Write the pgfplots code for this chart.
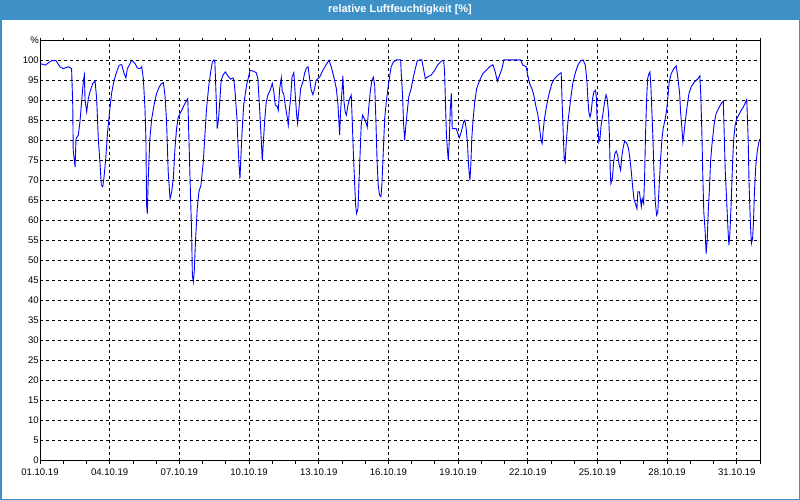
\documentclass[border=0pt]{standalone}
\usepackage{pgfplots}
\pgfplotsset{compat=1.18}
\usepackage{fontspec}
\setmainfont{Liberation Sans}
\definecolor{titleblue}{RGB}{61,145,199}
\begin{document}
\begin{tikzpicture}
\fill[white] (0,0) rectangle (800bp,500bp);
\fill[titleblue] (0,480bp) rectangle (800bp,500bp);
\node[text=white, font=\bfseries\fontsize{11}{12}\selectfont] at (400bp,490bp) {relative Luftfeuchtigkeit [\%]};
\begin{axis}[
  at={(40bp,39.3bp)}, anchor=south west,
  scale only axis, width=720bp, height=420bp,
  xmin=0, xmax=31, ymin=0, ymax=105,
  xtick={0,3,...,30},
  xticklabels={01.10.19,04.10.19,07.10.19,10.10.19,13.10.19,16.10.19,19.10.19,22.10.19,25.10.19,28.10.19,31.10.19},
  minor xtick={0,1,...,31},
  ytick={0,5,...,105},
  yticklabels={0,5,10,15,20,25,30,35,40,45,50,55,60,65,70,75,80,85,90,95,100,\%},
  xmajorgrids, ymajorgrids,
  major grid style={black, dash pattern=on 3bp off 3bp, line width=0.85bp},
  axis line style={black, line width=1bp},
  tick align=outside,
  major tick length=3bp, minor tick length=3bp,
  xtick style={black, line width=0.8bp},
  ytick style={draw=none},
  /pgf/number format/assume math mode=true,
  ticklabel style={font=\fontsize{9.6}{10}\selectfont, inner sep=0pt},
  yticklabel style={xshift=2bp},
  xticklabel style={yshift=-5.3bp},
]
\addplot[color={rgb,255:red,0;green,0;blue,255}, line width=0.9bp, mark=none] coordinates {
(0,99.3)(0.22,98.9)(0.5,100)(0.69,100)(0.86,98.5)(1.0,98.0)(1.22,98.5)(1.36,98.0)
(1.41,88.9)(1.43,77.6)(1.51,73.4)(1.55,80.5)(1.65,81.4)(1.72,84.7)(1.79,89.7)(1.87,95.1)
(1.91,96.4)(1.94,90.1)(2.01,87.2)(2.08,90.5)(2.15,92.2)(2.27,94.3)(2.37,94.9)(2.44,90.5)
(2.51,80.5)(2.58,74.7)(2.64,68.9)(2.70,68.5)(2.75,70.5)(2.83,75.5)(2.91,82.2)(3.01,88.0)
(3.08,91.8)(3.19,95.1)(3.30,97.2)(3.41,98.9)(3.52,99.0)(3.62,96.8)(3.70,95.7)(3.76,98.0)
(3.95,100.1)(4.09,99.3)(4.19,98.2)(4.30,98.0)(4.38,98.5)(4.45,95.5)(4.52,88.0)(4.56,80.5)
(4.59,63.9)(4.62,61.8)(4.66,70.5)(4.73,80.5)(4.81,85.5)(4.91,88.9)(5.02,91.8)(5.14,93.5)
(5.24,94.3)(5.31,94.5)(5.38,91.4)(5.45,84.7)(5.52,72.2)(5.60,65.5)(5.67,67.2)(5.74,70.5)
(5.81,78.0)(5.88,83.0)(5.95,85.9)(6.10,87.6)(6.24,89.3)(6.36,90.5)(6.38,87.2)(6.46,70.5)
(6.53,56.4)(6.56,46.4)(6.60,44.7)(6.64,47.2)(6.70,55.5)(6.77,63.0)(6.84,67.2)(6.93,68.9)
(7.03,74.7)(7.10,81.4)(7.17,88.0)(7.27,93.9)(7.35,97.2)(7.42,99.7)(7.49,100.2)(7.53,99.7)
(7.58,91.4)(7.63,83.0)(7.69,85.5)(7.74,89.7)(7.80,95.1)(7.88,96.4)(7.98,97.2)(8.09,96.2)
(8.21,95.4)(8.31,95.7)(8.35,95.1)(8.41,91.4)(8.48,85.5)(8.52,79.7)(8.57,73.9)(8.61,70.5)
(8.64,74.7)(8.70,82.2)(8.77,88.9)(8.84,91.8)(8.91,94.3)(8.98,95.9)(9.04,97.6)(9.17,97.4)
(9.31,97.0)(9.38,95.5)(9.43,90.5)(9.48,85.5)(9.53,79.7)(9.57,75.1)(9.61,78.9)(9.67,84.7)
(9.74,89.7)(9.81,91.4)(9.91,92.6)(10.00,94.3)(10.07,92.2)(10.13,88.9)(10.22,88.5)(10.26,87.6)
(10.32,93.0)(10.39,95.7)(10.43,92.2)(10.49,91.8)(10.56,88.9)(10.63,86.4)(10.69,83.9)(10.73,87.2)
(10.79,90.5)(10.85,95.9)(10.93,97.0)(10.99,91.4)(11.05,86.4)(11.09,84.3)(11.15,88.0)(11.22,93.0)
(11.32,94.7)(11.39,96.8)(11.46,98.0)(11.54,98.5)(11.61,95.5)(11.68,92.6)(11.75,91.5)(11.82,93.0)
(11.89,95.1)(12.04,95.9)(12.18,97.6)(12.32,99.0)(12.44,100.1)(12.54,98.5)(12.65,95.9)(12.76,93.0)
(12.83,88.9)(12.87,84.7)(12.90,81.4)(12.94,87.2)(13.00,92.2)(13.04,96.2)(13.09,89.7)(13.14,87.2)
(13.19,86.4)(13.26,88.9)(13.33,90.5)(13.40,91.4)(13.44,85.5)(13.49,77.2)(13.55,68.9)(13.59,63.9)
(13.63,61.8)(13.69,63.0)(13.73,68.9)(13.79,78.0)(13.83,83.9)(13.89,86.4)(13.97,85.5)(14.05,84.3)
(14.09,83.4)(14.15,88.0)(14.22,92.2)(14.29,95.1)(14.35,95.9)(14.41,93.9)(14.46,85.5)(14.51,75.5)
(14.56,68.9)(14.62,66.4)(14.68,66.0)(14.72,68.9)(14.78,77.2)(14.84,85.5)(14.91,89.7)(14.98,93.0)
(15.05,95.9)(15.12,98.5)(15.22,99.7)(15.34,100.2)(15.53,100.2)(15.55,97.2)(15.61,91.4)(15.65,84.7)
(15.70,80.1)(15.74,83.0)(15.81,87.2)(15.88,91.0)(15.98,93.0)(16.06,95.5)(16.16,98.0)(16.24,99.9)
(16.34,100.2)(16.44,100.2)(16.51,98.0)(16.59,95.5)(16.70,96.0)(16.84,96.4)(16.99,97.6)(17.13,99.0)
(17.28,99.9)(17.38,100.1)(17.42,97.2)(17.46,88.9)(17.50,81.4)(17.55,77.2)(17.58,75.1)(17.62,79.7)
(17.66,87.2)(17.71,91.8)(17.75,83.0)(17.92,83.0)(17.99,81.8)(18.05,80.7)(18.14,82.2)(18.24,84.7)
(18.29,85.1)(18.35,83.0)(18.41,78.9)(18.45,73.9)(18.51,70.1)(18.55,73.9)(18.59,80.5)(18.65,85.5)
(18.71,89.3)(18.80,93.0)(18.93,95.1)(19.07,96.8)(19.21,97.6)(19.36,98.5)(19.50,99.0)(19.60,97.2)
(19.69,94.9)(19.79,96.4)(19.89,98.0)(19.97,100.2)(20.69,100.2)(20.79,98.9)(20.93,98.5)(21.00,96.4)
(21.08,94.3)(21.18,93.0)(21.26,91.4)(21.34,88.9)(21.44,86.4)(21.51,83.0)(21.58,79.9)(21.62,79.3)
(21.66,82.2)(21.72,85.5)(21.79,88.0)(21.87,90.5)(21.94,92.2)(22.04,94.3)(22.15,95.5)(22.30,96.4)
(22.44,97.0)(22.48,89.7)(22.53,81.4)(22.57,75.5)(22.61,74.7)(22.65,78.9)(22.73,84.7)(22.80,88.0)
(22.87,91.4)(22.94,94.3)(23.04,96.8)(23.16,98.9)(23.27,99.9)(23.38,100.2)(23.48,98.9)(23.55,94.7)
(23.59,90.5)(23.63,87.2)(23.68,85.9)(23.73,87.2)(23.79,90.5)(23.85,92.2)(23.92,92.6)(23.96,90.5)
(23.99,84.3)(24.04,82.2)(24.06,79.7)(24.11,80.5)(24.16,83.9)(24.24,86.8)(24.31,89.7)(24.37,91.5)
(24.42,90.5)(24.48,86.8)(24.52,80.5)(24.55,72.6)(24.58,69.3)(24.64,70.5)(24.70,74.7)(24.75,76.8)
(24.81,77.4)(24.87,76.4)(24.94,73.9)(25.00,72.6)(25.04,75.5)(25.10,78.0)(25.17,79.9)(25.27,79.3)
(25.34,78.0)(25.40,75.5)(25.46,72.2)(25.51,68.9)(25.57,65.5)(25.63,64.3)(25.70,63.0)(25.74,67.2)
(25.81,67.2)(25.89,63.5)(25.93,65.5)(25.99,64.3)(26.03,70.5)(26.07,81.4)(26.12,90.5)(26.16,95.5)
(26.22,96.8)(26.26,97.2)(26.30,93.9)(26.34,88.0)(26.39,80.5)(26.43,73.0)(26.49,64.7)(26.55,61.4)
(26.60,62.2)(26.66,68.9)(26.72,75.5)(26.78,80.5)(26.83,83.0)(26.92,85.5)(26.98,87.6)(27.03,90.5)
(27.09,94.7)(27.18,96.8)(27.29,98.0)(27.39,98.7)(27.46,95.9)(27.54,91.8)(27.58,87.2)(27.64,83.0)
(27.68,79.7)(27.72,81.4)(27.78,84.7)(27.87,88.9)(27.94,91.8)(28.04,93.5)(28.18,94.7)(28.33,95.5)
(28.41,96.2)(28.45,91.4)(28.50,81.4)(28.54,70.5)(28.58,62.2)(28.64,57.2)(28.68,51.8)(28.73,55.5)
(28.77,62.2)(28.83,68.9)(28.87,74.7)(28.93,78.9)(28.99,82.2)(29.04,84.7)(29.11,86.8)(29.21,88.0)
(29.33,89.3)(29.42,89.9)(29.46,81.4)(29.50,73.0)(29.56,65.5)(29.62,58.0)(29.66,53.9)(29.70,56.4)
(29.76,64.7)(29.82,74.7)(29.87,80.5)(29.93,83.9)(30.00,85.5)(30.08,86.4)(30.19,87.6)(30.29,88.5)
(30.38,89.7)(30.43,90.3)(30.49,80.5)(30.53,68.9)(30.59,58.9)(30.63,54.3)(30.68,55.5)(30.72,59.7)
(30.76,67.2)(30.82,73.9)(30.88,77.2)(30.94,79.3)(30.99,80.4)
};
\end{axis}
\draw[titleblue, line width=1.5bp] (0.75bp,0.75bp) rectangle (799.25bp,499.25bp);
\end{tikzpicture}
\end{document}
